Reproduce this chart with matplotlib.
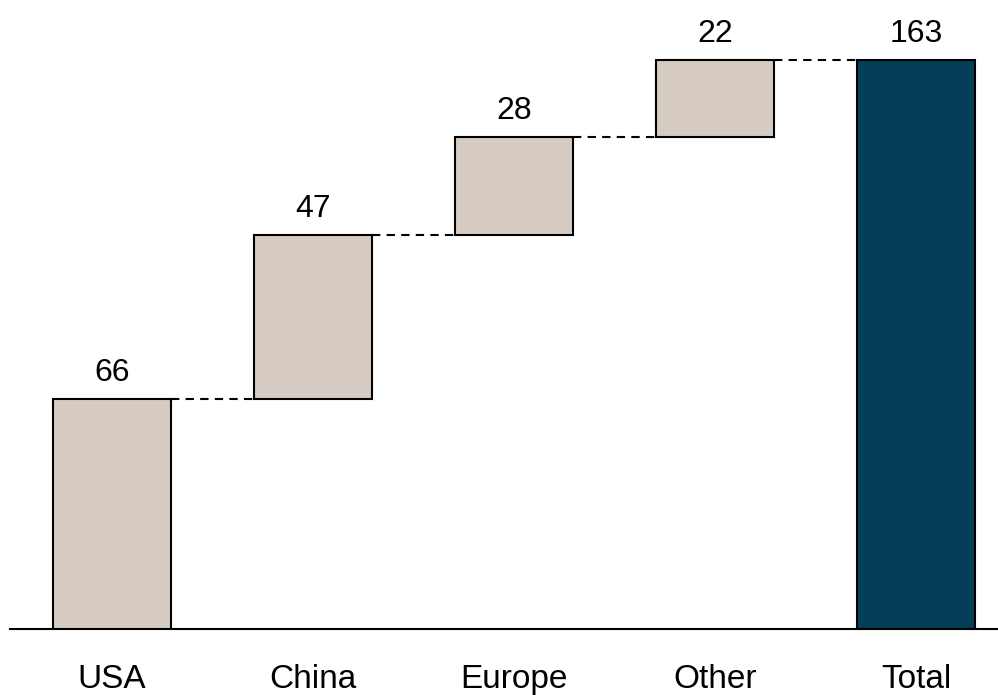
import numpy as np
import matplotlib.pyplot as plt

plt.rcParams['font.family'] = ['Liberation Sans Narrow', 'Liberation Sans', 'DejaVu Sans']

categories = ['USA', 'China', 'Europe', 'Other', 'Total']
values = [66, 47, 28, 22]
total = sum(values)

step_color = '#D5CBC2'
total_color = '#033F56'

fig = plt.figure(figsize=(9.98, 6.95), dpi=100)
# axes spans from the baseline (y=629px) to the top of the figure
ax = fig.add_axes([10 / 998, (695 - 629) / 695, 988 / 998, 629 / 695])

x = np.arange(len(categories))
bottoms = np.concatenate([[0], np.cumsum(values)[:-1]])
heights = list(values) + [total]
bottoms = list(bottoms) + [0]
colors = [step_color] * len(values) + [total_color]

width = 0.59
ax.bar(x, heights, width=width, bottom=bottoms, color=colors,
       edgecolor='black', linewidth=1.5, zorder=3)

# dashed connectors between the step tops
tops = np.cumsum(values)
for i, t in enumerate(tops):
    ax.plot([x[i] + width / 2, x[i + 1] - width / 2], [t, t],
            color='black', linestyle=(0, (4, 3)), linewidth=1.5, zorder=2)

# value labels above each bar
for xi, b, h in zip(x, bottoms, heights):
    ax.annotate(f'{h}', (xi, b + h), xytext=(0, 8), textcoords='offset points',
                ha='center', va='bottom', fontsize=23)

# category labels below the baseline
for xi, name in zip(x, categories):
    ax.annotate(name, (xi, 0), xytext=(0, -42.5), textcoords='offset points',
                ha='center', va='baseline', fontsize=24, annotation_clip=False)

ax.set_xlim((10 - 112) / 201, (998 - 112) / 201)
ax.set_ylim(0, 629 / 3.49)
for side in ['top', 'right', 'left']:
    ax.spines[side].set_visible(False)
ax.spines['bottom'].set_linewidth(1.5)
ax.set_xticks([])
ax.set_yticks([])

plt.savefig('out.png', dpi=100)
